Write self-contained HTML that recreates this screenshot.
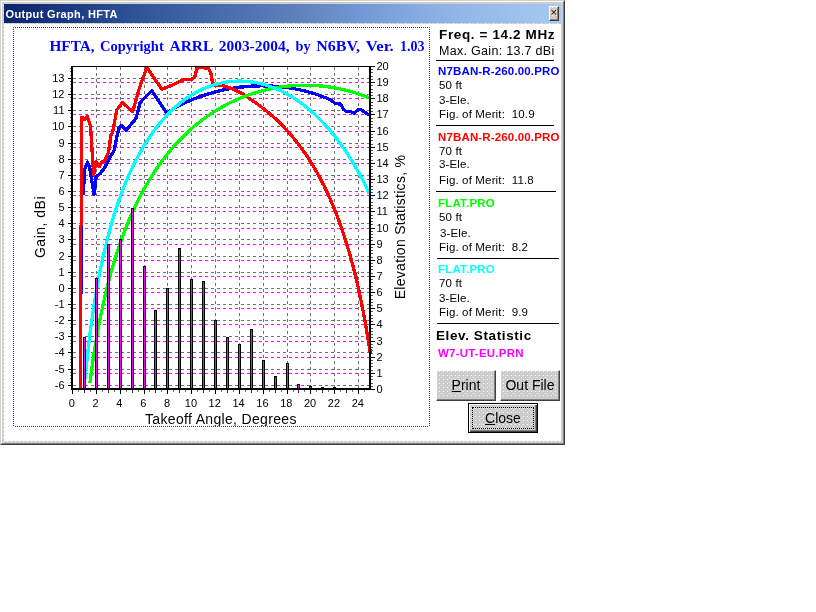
<!DOCTYPE html>
<html><head><meta charset="utf-8"><title>Output Graph, HFTA</title>
<style>
html,body{margin:0;padding:0;background:#fff;}
body{width:816px;height:612px;position:relative;overflow:hidden;font-family:"Liberation Sans",Arial,sans-serif;color:#000;}
.win{position:absolute;left:0;top:0;width:565px;height:445px;box-sizing:border-box;
 border-top:1px solid #d4d0c8;border-left:1px solid #d4d0c8;border-right:1px solid #404040;border-bottom:1px solid #404040;}
.win:before{content:"";position:absolute;left:0;top:0;right:0;bottom:0;border-top:1px solid #fff;border-left:1px solid #fff;border-right:1px solid #808080;border-bottom:1px solid #808080;}
.client{position:absolute;left:4px;top:24px;width:557px;height:417px;background:#fff;}
.title{position:absolute;left:4px;top:4px;width:557px;height:19px;background:linear-gradient(90deg,#0a246a 0%,#1c3a84 12%,#32589b 26%,#5f82be 53%,#739bd7 65%,#90b4e6 80%,#a6caf0 100%);}
.title span{position:absolute;left:1.5px;top:3px;font:bold 11px/14px "Liberation Sans",Arial,sans-serif;color:#fff;letter-spacing:0.35px;white-space:nowrap;}
.xbtn{position:absolute;left:545px;top:2px;width:10px;height:15px;box-sizing:border-box;border-top:1px solid #fff;border-left:1px solid #fff;border-right:1px solid #404040;border-bottom:1px solid #404040;box-shadow:inset -1px -1px 0 #808080;}
.xbtn span{position:absolute;left:0;top:-2px;width:8px;text-align:center;font:11px/14px "Liberation Sans",Arial,sans-serif;color:#000;}
.frame{position:absolute;left:13px;top:27px;width:416px;height:399px;}
.frame .chart{position:absolute;left:0;top:0;}
.frame i{position:absolute;display:block;}
.frame i.h{left:0;width:417px;height:1px;background:repeating-linear-gradient(90deg,#444 0,#444 1px,#fff 1px,#fff 2px);}
.frame i.v{top:0;width:1px;height:400px;background:repeating-linear-gradient(180deg,#444 0,#444 1px,#fff 1px,#fff 2px);}
.dith{background:conic-gradient(at 1px 1px,transparent 75%,#ffffc0 0) 2px 0px/8px 8px,conic-gradient(at 1px 1px,transparent 75%,#ffffc0 0) 6px 0px/8px 8px,conic-gradient(at 1px 1px,transparent 75%,#ffffc0 0) 2px 4px/8px 8px,conic-gradient(at 1px 1px,transparent 75%,#ffffc0 0) 6px 4px/8px 8px,conic-gradient(at 1px 1px,transparent 75%,#ffffc0 0) 4px 6px/8px 8px,conic-gradient(at 1px 1px,transparent 75%,#ffc4c4 0) 0px 0px/8px 8px,conic-gradient(at 1px 1px,transparent 75%,#ffc4c4 0) 0px 2px/8px 8px,conic-gradient(at 1px 1px,transparent 75%,#ffc4c4 0) 4px 2px/8px 8px,conic-gradient(at 1px 1px,transparent 75%,#ffc4c4 0) 4px 4px/8px 8px,conic-gradient(at 1px 1px,transparent 75%,#ffc4c4 0) 0px 6px/8px 8px,#cbcccb;}
.t{position:absolute;white-space:nowrap;line-height:14px;height:14px;}
.b13{font-weight:bold;font-size:13.5px;}
.b11{font-weight:bold;font-size:11.5px;}
.r11{font-size:11.5px;letter-spacing:0.15px;}
.r12{font-size:12.5px;}
.hr{position:absolute;height:1px;background:#000;}
.btn{position:absolute;box-sizing:border-box;border-top:1px solid #fff;border-left:1px solid #fff;border-right:1px solid #404040;border-bottom:1px solid #404040;box-shadow:inset -1px -1px 0 #808080;font-size:14px;line-height:26px;text-align:center;}
.btn u{text-decoration:underline;}
.btn.def{border:1px solid #000;box-shadow:inset 1px 1px 0 #fff, inset -1px -1px 0 #404040, inset -2px -2px 0 #808080;}
.btn.def:after{content:"";position:absolute;left:3px;top:3px;right:3px;bottom:3px;border:1px dotted #000;}
</style></head><body>
<div class="win dith"></div>
<div class="title"><span>Output Graph, HFTA</span><div class="xbtn dith"><span>&#215;</span></div></div>
<div class="client"></div>
<div class="frame">
<svg class="chart" width="416" height="399" viewBox="13 27 416 399">
<rect x="13" y="27" width="416" height="399" fill="#fff"/>
<g shape-rendering="crispEdges" fill="none" stroke-width="1">
<line x1="73" x2="369" y1="385.5" y2="385.5" stroke="#707070" stroke-dasharray="3 3"/>
<line x1="73" x2="369" y1="369.5" y2="369.5" stroke="#707070" stroke-dasharray="3 3"/>
<line x1="73" x2="369" y1="352.5" y2="352.5" stroke="#707070" stroke-dasharray="3 3"/>
<line x1="73" x2="369" y1="336.5" y2="336.5" stroke="#707070" stroke-dasharray="3 3"/>
<line x1="73" x2="369" y1="320.5" y2="320.5" stroke="#707070" stroke-dasharray="3 3"/>
<line x1="73" x2="369" y1="304.5" y2="304.5" stroke="#707070" stroke-dasharray="3 3"/>
<line x1="73" x2="369" y1="288.5" y2="288.5" stroke="#707070" stroke-dasharray="3 3"/>
<line x1="73" x2="369" y1="272.5" y2="272.5" stroke="#707070" stroke-dasharray="3 3"/>
<line x1="73" x2="369" y1="256.5" y2="256.5" stroke="#707070" stroke-dasharray="3 3"/>
<line x1="73" x2="369" y1="239.5" y2="239.5" stroke="#707070" stroke-dasharray="3 3"/>
<line x1="73" x2="369" y1="223.5" y2="223.5" stroke="#707070" stroke-dasharray="3 3"/>
<line x1="73" x2="369" y1="207.5" y2="207.5" stroke="#707070" stroke-dasharray="3 3"/>
<line x1="73" x2="369" y1="191.5" y2="191.5" stroke="#707070" stroke-dasharray="3 3"/>
<line x1="73" x2="369" y1="175.5" y2="175.5" stroke="#707070" stroke-dasharray="3 3"/>
<line x1="73" x2="369" y1="159.5" y2="159.5" stroke="#707070" stroke-dasharray="3 3"/>
<line x1="73" x2="369" y1="143.5" y2="143.5" stroke="#707070" stroke-dasharray="3 3"/>
<line x1="73" x2="369" y1="126.5" y2="126.5" stroke="#707070" stroke-dasharray="3 3"/>
<line x1="73" x2="369" y1="110.5" y2="110.5" stroke="#707070" stroke-dasharray="3 3"/>
<line x1="73" x2="369" y1="94.5" y2="94.5" stroke="#707070" stroke-dasharray="3 3"/>
<line x1="73" x2="369" y1="78.5" y2="78.5" stroke="#707070" stroke-dasharray="3 3"/>
<line x1="96.5" x2="96.5" y1="67" y2="388" stroke="#707070" stroke-dasharray="3 3"/>
<line x1="120.5" x2="120.5" y1="67" y2="388" stroke="#707070" stroke-dasharray="3 3"/>
<line x1="144.5" x2="144.5" y1="67" y2="388" stroke="#707070" stroke-dasharray="3 3"/>
<line x1="167.5" x2="167.5" y1="67" y2="388" stroke="#707070" stroke-dasharray="3 3"/>
<line x1="191.5" x2="191.5" y1="67" y2="388" stroke="#707070" stroke-dasharray="3 3"/>
<line x1="215.5" x2="215.5" y1="67" y2="388" stroke="#707070" stroke-dasharray="3 3"/>
<line x1="239.5" x2="239.5" y1="67" y2="388" stroke="#707070" stroke-dasharray="3 3"/>
<line x1="263.5" x2="263.5" y1="67" y2="388" stroke="#707070" stroke-dasharray="3 3"/>
<line x1="287.5" x2="287.5" y1="67" y2="388" stroke="#707070" stroke-dasharray="3 3"/>
<line x1="310.5" x2="310.5" y1="67" y2="388" stroke="#707070" stroke-dasharray="3 3"/>
<line x1="334.5" x2="334.5" y1="67" y2="388" stroke="#707070" stroke-dasharray="3 3"/>
<line x1="358.5" x2="358.5" y1="67" y2="388" stroke="#707070" stroke-dasharray="3 3"/>
<line x1="73" x2="369" y1="373.5" y2="373.5" stroke="#ff00ff" stroke-dasharray="3 3"/>
<line x1="73" x2="369" y1="357.5" y2="357.5" stroke="#ff00ff" stroke-dasharray="3 3"/>
<line x1="73" x2="369" y1="341.5" y2="341.5" stroke="#ff00ff" stroke-dasharray="3 3"/>
<line x1="73" x2="369" y1="324.5" y2="324.5" stroke="#ff00ff" stroke-dasharray="3 3"/>
<line x1="73" x2="369" y1="308.5" y2="308.5" stroke="#ff00ff" stroke-dasharray="3 3"/>
<line x1="73" x2="369" y1="292.5" y2="292.5" stroke="#ff00ff" stroke-dasharray="3 3"/>
<line x1="73" x2="369" y1="276.5" y2="276.5" stroke="#ff00ff" stroke-dasharray="3 3"/>
<line x1="73" x2="369" y1="260.5" y2="260.5" stroke="#ff00ff" stroke-dasharray="3 3"/>
<line x1="73" x2="369" y1="244.5" y2="244.5" stroke="#ff00ff" stroke-dasharray="3 3"/>
<line x1="73" x2="369" y1="228.5" y2="228.5" stroke="#ff00ff" stroke-dasharray="3 3"/>
<line x1="73" x2="369" y1="211.5" y2="211.5" stroke="#ff00ff" stroke-dasharray="3 3"/>
<line x1="73" x2="369" y1="195.5" y2="195.5" stroke="#ff00ff" stroke-dasharray="3 3"/>
<line x1="73" x2="369" y1="179.5" y2="179.5" stroke="#ff00ff" stroke-dasharray="3 3"/>
<line x1="73" x2="369" y1="163.5" y2="163.5" stroke="#ff00ff" stroke-dasharray="3 3"/>
<line x1="73" x2="369" y1="147.5" y2="147.5" stroke="#ff00ff" stroke-dasharray="3 3"/>
<line x1="73" x2="369" y1="131.5" y2="131.5" stroke="#ff00ff" stroke-dasharray="3 3"/>
<line x1="73" x2="369" y1="114.5" y2="114.5" stroke="#ff00ff" stroke-dasharray="3 3"/>
<line x1="73" x2="369" y1="98.5" y2="98.5" stroke="#ff00ff" stroke-dasharray="3 3"/>
<line x1="73" x2="369" y1="82.5" y2="82.5" stroke="#ff00ff" stroke-dasharray="3 3"/>
</g>
<g fill="none" stroke-width="3.3" stroke-linejoin="round" stroke-linecap="butt" shape-rendering="crispEdges">
<polyline stroke="#0000ff" points="83.4,195.0 84.5,170.0 87.5,162.0 89.6,167.0 92.0,181.7 94.0,194.8 96.1,176.8 100.2,173.5 105.1,167.0 110.0,157.2 114.1,150.6 116.6,137.6 119.0,127.8 121.0,125.3 126.4,130.2 136.0,118.3 140.2,102.5 151.8,90.8 166.8,113.3 174.0,108.3 178.0,106.2 182.0,104.2 186.0,102.3 190.0,100.6 194.0,98.9 198.0,97.4 202.0,96.0 206.0,94.6 210.0,93.4 214.0,92.3 218.0,91.2 222.0,90.3 226.0,89.4 230.0,88.7 234.0,88.0 238.0,87.4 242.0,87.0 246.0,86.6 250.0,86.2 254.0,86.0 258.0,85.9 262.0,85.8 266.0,85.9 270.0,86.0 274.0,86.2 278.0,86.5 282.0,86.9 286.0,87.4 290.0,88.0 294.0,88.7 298.0,89.5 302.0,90.3 306.0,91.3 310.0,92.4 314.0,93.6 318.0,94.9 322.0,96.3 326.0,97.9 330.0,99.5 335.0,103.3 340.8,104.2 343.3,109.2 345.8,111.2 350.8,111.7 354.2,113.3 358.3,109.5 361.7,110.0 369.2,115.0"/>
<rect x="82" y="226" width="1" height="68" fill="#0000ff" stroke="none"/>
<polyline stroke="#ff0000" stroke-width="3" points="80.5,389 80.5,226 81.5,225 81.5,118 82,116.5"/>
<polyline stroke="#ff0000" points="82.0,116.5 84.7,119.5 87.3,116.5 90.5,126.0 92.0,149.0 93.7,175.0 96.0,161.5 99.4,166.5 102.0,162.0 105.0,160.5 108.4,152.5 111.0,135.0 112.5,132.7 116.8,110.0 122.5,102.5 132.7,111.7 139.3,88.3 146.8,67.5 161.8,89.2 172.7,85.0 182.7,80.0 192.7,79.0 195.0,76.5 196.7,68.3 200.0,67.5 208.3,68.3 210.8,73.3 212.5,82.5 215.0,85.0 223.3,85.8 233.3,89.2 243.3,94.2 252.3,100.6 256.4,103.4 260.5,106.3 264.4,109.4 268.2,112.5 272.0,115.7 275.6,118.9 279.1,122.3 282.6,125.7 285.9,129.3 289.1,132.9 292.3,136.5 295.4,140.3 298.3,144.1 301.2,147.9 304.1,151.9 306.8,155.8 309.4,159.9 312.0,164.0 314.5,168.2 316.9,172.4 319.3,176.6 321.5,180.9 323.8,185.3 325.9,189.7 328.0,194.1 330.0,198.6 331.9,203.1 333.8,207.6 335.7,212.2 337.4,216.8 339.2,221.4 340.8,226.1 342.5,230.8 344.0,235.4 345.5,240.2 347.0,244.9 348.4,249.6 349.8,254.4 351.1,259.2 352.4,263.9 353.7,268.7 354.9,273.5 356.1,278.3 357.2,283.1 358.3,287.9 359.3,292.7 360.4,297.5 361.4,302.3 362.3,307.1 363.3,311.9 364.2,316.7 365.1,321.5 365.9,326.2 366.7,331.0 367.6,335.7 368.3,340.4 369.1,345.1 369.9,349.7 370.6,354.4"/>
<polyline stroke="#00ff00" points="89.9,382.9 91.1,373.7 92.3,365.1 93.5,357.0 94.6,349.3 95.8,342.0 97.0,335.1 98.2,328.5 99.4,322.2 100.6,316.2 101.8,310.4 103.0,304.9 104.2,299.6 105.4,294.4 106.6,289.5 107.8,284.7 109.0,280.1 110.1,275.7 111.3,271.4 112.5,267.2 113.7,263.2 114.9,259.2 116.1,255.4 117.3,251.7 118.5,248.1 119.7,244.6 120.9,241.2 122.1,237.9 123.3,234.7 124.4,231.5 125.6,228.5 126.8,225.5 128.0,222.6 129.2,219.7 130.4,216.9 131.6,214.2 132.8,211.6 134.0,209.0 135.2,206.4 136.4,203.9 137.6,201.5 138.8,199.1 139.9,196.8 141.1,194.5 142.3,192.3 143.5,190.1 144.7,187.9 145.9,185.8 147.1,183.8 148.3,181.8 149.5,179.8 150.7,177.8 151.9,175.9 153.1,174.1 154.2,172.2 155.4,170.4 156.6,168.7 157.8,166.9 159.0,165.2 160.2,163.6 161.4,161.9 162.6,160.3 163.8,158.7 165.0,157.2 166.2,155.6 167.4,154.1 168.6,152.7 169.7,151.2 170.9,149.8 172.1,148.4 173.3,147.0 174.5,145.7 175.7,144.3 176.9,143.0 178.1,141.8 179.3,140.5 180.5,139.3 181.7,138.0 182.9,136.9 184.0,135.7 185.2,134.5 186.4,133.4 187.6,132.3 188.8,131.2 190.0,130.1 191.2,129.0 192.4,128.0 193.6,127.0 194.8,125.9 196.0,125.0 197.2,124.0 198.4,123.0 199.5,122.1 200.7,121.1 201.9,120.2 203.1,119.3 204.3,118.5 205.5,117.6 206.7,116.7 207.9,115.9 209.1,115.1 210.3,114.3 211.5,113.5 212.7,112.7 213.8,111.9 215.0,111.2 216.2,110.5 217.4,109.7 218.6,109.0 219.8,108.3 221.0,107.6 222.2,107.0 223.4,106.3 224.6,105.6 225.8,105.0 227.0,104.4 228.2,103.8 229.3,103.2 230.5,102.6 231.7,102.0 232.9,101.4 234.1,100.9 235.3,100.3 236.5,99.8 237.7,99.3 238.9,98.8 240.1,98.3 241.3,97.8 242.5,97.3 243.6,96.8 244.8,96.4 246.0,95.9 247.2,95.5 248.4,95.0 249.6,94.6 250.8,94.2 252.0,93.8 253.2,93.4 254.4,93.0 255.6,92.7 256.8,92.3 258.0,92.0 259.1,91.6 260.3,91.3 261.5,91.0 262.7,90.7 263.9,90.3 265.1,90.1 266.3,89.8 267.5,89.5 268.7,89.2 269.9,89.0 271.1,88.7 272.3,88.5 273.4,88.2 274.6,88.0 275.8,87.8 277.0,87.6 278.2,87.4 279.4,87.2 280.6,87.0 281.8,86.9 283.0,86.7 284.2,86.5 285.4,86.4 286.6,86.3 287.8,86.1 288.9,86.0 290.1,85.9 291.3,85.8 292.5,85.7 293.7,85.6 294.9,85.6 296.1,85.5 297.3,85.4 298.5,85.4 299.7,85.3 300.9,85.3 302.1,85.3 303.2,85.3 304.4,85.2 305.6,85.2 306.8,85.2 308.0,85.3 309.2,85.3 310.4,85.3 311.6,85.4 312.8,85.4 314.0,85.5 315.2,85.5 316.4,85.6 317.6,85.7 318.7,85.8 319.9,85.9 321.1,86.0 322.3,86.1 323.5,86.2 324.7,86.4 325.9,86.5 327.1,86.7 328.3,86.8 329.5,87.0 330.7,87.2 331.9,87.4 333.0,87.6 334.2,87.8 335.4,88.0 336.6,88.2 337.8,88.4 339.0,88.7 340.2,88.9 341.4,89.2 342.6,89.5 343.8,89.7 345.0,90.0 346.2,90.3 347.4,90.6 348.5,90.9 349.7,91.2 350.9,91.6 352.1,91.9 353.3,92.3 354.5,92.6 355.7,93.0 356.9,93.4 358.1,93.8 359.3,94.2 360.5,94.6 361.7,95.0 362.8,95.4 364.0,95.8 365.2,96.3 366.4,96.7 367.6,97.2 368.8,97.7 369.2,97.8"/>
<polyline stroke="#00ffff" points="85.1,378.5 86.3,366.2 87.5,354.9 88.7,344.4 89.9,334.6 91.1,325.5 92.3,316.9 93.5,308.8 94.6,301.2 95.8,294.0 97.0,287.1 98.2,280.6 99.4,274.3 100.6,268.4 101.8,262.7 103.0,257.2 104.2,252.0 105.4,246.9 106.6,242.0 107.8,237.4 109.0,232.8 110.1,228.5 111.3,224.3 112.5,220.2 113.7,216.2 114.9,212.4 116.1,208.7 117.3,205.1 118.5,201.6 119.7,198.2 120.9,195.0 122.1,191.8 123.3,188.7 124.4,185.6 125.6,182.7 126.8,179.8 128.0,177.0 129.2,174.3 130.4,171.7 131.6,169.1 132.8,166.6 134.0,164.1 135.2,161.8 136.4,159.4 137.6,157.2 138.8,154.9 139.9,152.8 141.1,150.7 142.3,148.6 143.5,146.6 144.7,144.6 145.9,142.7 147.1,140.8 148.3,139.0 149.5,137.2 150.7,135.5 151.9,133.7 153.1,132.1 154.2,130.4 155.4,128.9 156.6,127.3 157.8,125.8 159.0,124.3 160.2,122.8 161.4,121.4 162.6,120.0 163.8,118.7 165.0,117.4 166.2,116.1 167.4,114.8 168.6,113.6 169.7,112.4 170.9,111.2 172.1,110.1 173.3,109.0 174.5,107.9 175.7,106.8 176.9,105.8 178.1,104.8 179.3,103.8 180.5,102.8 181.7,101.9 182.9,101.0 184.0,100.1 185.2,99.2 186.4,98.4 187.6,97.6 188.8,96.8 190.0,96.0 191.2,95.3 192.4,94.6 193.6,93.8 194.8,93.2 196.0,92.5 197.2,91.9 198.4,91.2 199.5,90.6 200.7,90.1 201.9,89.5 203.1,89.0 204.3,88.4 205.5,87.9 206.7,87.4 207.9,87.0 209.1,86.5 210.3,86.1 211.5,85.7 212.7,85.3 213.8,84.9 215.0,84.6 216.2,84.2 217.4,83.9 218.6,83.6 219.8,83.3 221.0,83.1 222.2,82.8 223.4,82.6 224.6,82.4 225.8,82.2 227.0,82.0 228.2,81.8 229.3,81.7 230.5,81.6 231.7,81.5 232.9,81.4 234.1,81.3 235.3,81.2 236.5,81.2 237.7,81.1 238.9,81.1 240.1,81.1 241.3,81.1 242.5,81.2 243.6,81.2 244.8,81.3 246.0,81.4 247.2,81.5 248.4,81.6 249.6,81.7 250.8,81.9 252.0,82.0 253.2,82.2 254.4,82.4 255.6,82.6 256.8,82.8 258.0,83.1 259.1,83.3 260.3,83.6 261.5,83.9 262.7,84.2 263.9,84.5 265.1,84.9 266.3,85.2 267.5,85.6 268.7,86.0 269.9,86.4 271.1,86.8 272.3,87.2 273.4,87.7 274.6,88.1 275.8,88.6 277.0,89.1 278.2,89.7 279.4,90.2 280.6,90.7 281.8,91.3 283.0,91.9 284.2,92.5 285.4,93.1 286.6,93.8 287.8,94.4 288.9,95.1 290.1,95.8 291.3,96.5 292.5,97.2 293.7,98.0 294.9,98.8 296.1,99.5 297.3,100.3 298.5,101.2 299.7,102.0 300.9,102.9 302.1,103.7 303.2,104.6 304.4,105.6 305.6,106.5 306.8,107.5 308.0,108.4 309.2,109.4 310.4,110.5 311.6,111.5 312.8,112.6 314.0,113.6 315.2,114.7 316.4,115.9 317.6,117.0 318.7,118.2 319.9,119.4 321.1,120.6 322.3,121.8 323.5,123.1 324.7,124.4 325.9,125.7 327.1,127.0 328.3,128.4 329.5,129.8 330.7,131.2 331.9,132.6 333.0,134.1 334.2,135.5 335.4,137.1 336.6,138.6 337.8,140.2 339.0,141.8 340.2,143.4 341.4,145.0 342.6,146.7 343.8,148.4 345.0,150.2 346.2,151.9 347.4,153.8 348.5,155.6 349.7,157.5 350.9,159.4 352.1,161.3 353.3,163.3 354.5,165.3 355.7,167.3 356.9,169.4 358.1,171.5 359.3,173.7 360.5,175.9 361.7,178.1 362.8,180.4 364.0,182.7 365.2,185.1 366.4,187.5 367.6,190.0 368.8,192.5 369.2,193.2"/>
</g>
<g shape-rendering="crispEdges">
<rect x="83" y="337" width="3" height="52" fill="#000"/>
<rect x="84" y="338" width="1" height="50" fill="#ff00ff"/>
<rect x="95" y="278" width="3" height="111" fill="#000"/>
<rect x="96" y="279" width="1" height="109" fill="#ff00ff"/>
<rect x="107" y="244" width="3" height="145" fill="#000"/>
<rect x="108" y="245" width="1" height="143" fill="#ff00ff"/>
<rect x="119" y="239" width="3" height="150" fill="#000"/>
<rect x="120" y="240" width="1" height="148" fill="#ff00ff"/>
<rect x="131" y="208" width="3" height="181" fill="#000"/>
<rect x="132" y="209" width="1" height="179" fill="#ff00ff"/>
<rect x="143" y="266" width="3" height="123" fill="#000"/>
<rect x="144" y="267" width="1" height="121" fill="#ff00ff"/>
<rect x="154" y="310" width="3" height="79" fill="#000"/>
<rect x="155" y="311" width="1" height="77" fill="#ff00ff"/>
<rect x="166" y="288" width="3" height="101" fill="#000"/>
<rect x="167" y="289" width="1" height="99" fill="#ff00ff"/>
<rect x="178" y="248" width="3" height="141" fill="#000"/>
<rect x="179" y="249" width="1" height="139" fill="#ff00ff"/>
<rect x="190" y="279" width="3" height="110" fill="#000"/>
<rect x="191" y="280" width="1" height="108" fill="#ff00ff"/>
<rect x="202" y="281" width="3" height="108" fill="#000"/>
<rect x="203" y="282" width="1" height="106" fill="#ff00ff"/>
<rect x="214" y="320" width="3" height="69" fill="#000"/>
<rect x="215" y="321" width="1" height="67" fill="#ff00ff"/>
<rect x="226" y="337" width="3" height="52" fill="#000"/>
<rect x="227" y="338" width="1" height="50" fill="#ff00ff"/>
<rect x="238" y="344" width="3" height="45" fill="#000"/>
<rect x="239" y="345" width="1" height="43" fill="#ff00ff"/>
<rect x="250" y="329" width="3" height="60" fill="#000"/>
<rect x="251" y="330" width="1" height="58" fill="#ff00ff"/>
<rect x="262" y="360" width="3" height="29" fill="#000"/>
<rect x="263" y="361" width="1" height="27" fill="#ff00ff"/>
<rect x="274" y="376" width="3" height="13" fill="#000"/>
<rect x="275" y="377" width="1" height="11" fill="#ff00ff"/>
<rect x="286" y="363" width="3" height="26" fill="#000"/>
<rect x="287" y="364" width="1" height="24" fill="#ff00ff"/>
<rect x="297" y="384" width="3" height="5" fill="#000"/>
<rect x="298" y="385" width="1" height="3" fill="#ff00ff"/>
<rect x="309" y="386" width="3" height="3" fill="#000"/>
<rect x="310" y="387" width="1" height="1" fill="#ff00ff"/>
<rect x="321" y="387" width="3" height="2" fill="#000"/>
<rect x="333" y="387" width="3" height="2" fill="#000"/>
</g>
<g shape-rendering="crispEdges" fill="#000">
<rect x="71" y="66" width="2" height="324"/>
<rect x="369" y="66" width="2" height="324"/>
<rect x="71" y="388" width="300" height="2"/>
<rect x="71" y="66" width="300" height="1"/>
<rect x="68" y="385" width="3" height="1"/>
<rect x="70" y="382" width="1" height="1" fill="#777"/>
<rect x="70" y="378" width="1" height="1" fill="#777"/>
<rect x="70" y="375" width="1" height="1" fill="#777"/>
<rect x="70" y="372" width="1" height="1" fill="#777"/>
<rect x="68" y="369" width="3" height="1"/>
<rect x="70" y="365" width="1" height="1" fill="#777"/>
<rect x="70" y="362" width="1" height="1" fill="#777"/>
<rect x="70" y="359" width="1" height="1" fill="#777"/>
<rect x="70" y="356" width="1" height="1" fill="#777"/>
<rect x="68" y="352" width="3" height="1"/>
<rect x="70" y="349" width="1" height="1" fill="#777"/>
<rect x="70" y="346" width="1" height="1" fill="#777"/>
<rect x="70" y="343" width="1" height="1" fill="#777"/>
<rect x="70" y="340" width="1" height="1" fill="#777"/>
<rect x="68" y="336" width="3" height="1"/>
<rect x="70" y="333" width="1" height="1" fill="#777"/>
<rect x="70" y="330" width="1" height="1" fill="#777"/>
<rect x="70" y="327" width="1" height="1" fill="#777"/>
<rect x="70" y="323" width="1" height="1" fill="#777"/>
<rect x="68" y="320" width="3" height="1"/>
<rect x="70" y="317" width="1" height="1" fill="#777"/>
<rect x="70" y="314" width="1" height="1" fill="#777"/>
<rect x="70" y="310" width="1" height="1" fill="#777"/>
<rect x="70" y="307" width="1" height="1" fill="#777"/>
<rect x="68" y="304" width="3" height="1"/>
<rect x="70" y="301" width="1" height="1" fill="#777"/>
<rect x="70" y="298" width="1" height="1" fill="#777"/>
<rect x="70" y="294" width="1" height="1" fill="#777"/>
<rect x="70" y="291" width="1" height="1" fill="#777"/>
<rect x="68" y="288" width="3" height="1"/>
<rect x="70" y="285" width="1" height="1" fill="#777"/>
<rect x="70" y="281" width="1" height="1" fill="#777"/>
<rect x="70" y="278" width="1" height="1" fill="#777"/>
<rect x="70" y="275" width="1" height="1" fill="#777"/>
<rect x="68" y="272" width="3" height="1"/>
<rect x="70" y="268" width="1" height="1" fill="#777"/>
<rect x="70" y="265" width="1" height="1" fill="#777"/>
<rect x="70" y="262" width="1" height="1" fill="#777"/>
<rect x="70" y="259" width="1" height="1" fill="#777"/>
<rect x="68" y="256" width="3" height="1"/>
<rect x="70" y="252" width="1" height="1" fill="#777"/>
<rect x="70" y="249" width="1" height="1" fill="#777"/>
<rect x="70" y="246" width="1" height="1" fill="#777"/>
<rect x="70" y="243" width="1" height="1" fill="#777"/>
<rect x="68" y="239" width="3" height="1"/>
<rect x="70" y="236" width="1" height="1" fill="#777"/>
<rect x="70" y="233" width="1" height="1" fill="#777"/>
<rect x="70" y="230" width="1" height="1" fill="#777"/>
<rect x="70" y="226" width="1" height="1" fill="#777"/>
<rect x="68" y="223" width="3" height="1"/>
<rect x="70" y="220" width="1" height="1" fill="#777"/>
<rect x="70" y="217" width="1" height="1" fill="#777"/>
<rect x="70" y="214" width="1" height="1" fill="#777"/>
<rect x="70" y="210" width="1" height="1" fill="#777"/>
<rect x="68" y="207" width="3" height="1"/>
<rect x="70" y="204" width="1" height="1" fill="#777"/>
<rect x="70" y="201" width="1" height="1" fill="#777"/>
<rect x="70" y="197" width="1" height="1" fill="#777"/>
<rect x="70" y="194" width="1" height="1" fill="#777"/>
<rect x="68" y="191" width="3" height="1"/>
<rect x="70" y="188" width="1" height="1" fill="#777"/>
<rect x="70" y="185" width="1" height="1" fill="#777"/>
<rect x="70" y="181" width="1" height="1" fill="#777"/>
<rect x="70" y="178" width="1" height="1" fill="#777"/>
<rect x="68" y="175" width="3" height="1"/>
<rect x="70" y="172" width="1" height="1" fill="#777"/>
<rect x="70" y="168" width="1" height="1" fill="#777"/>
<rect x="70" y="165" width="1" height="1" fill="#777"/>
<rect x="70" y="162" width="1" height="1" fill="#777"/>
<rect x="68" y="159" width="3" height="1"/>
<rect x="70" y="155" width="1" height="1" fill="#777"/>
<rect x="70" y="152" width="1" height="1" fill="#777"/>
<rect x="70" y="149" width="1" height="1" fill="#777"/>
<rect x="70" y="146" width="1" height="1" fill="#777"/>
<rect x="68" y="143" width="3" height="1"/>
<rect x="70" y="139" width="1" height="1" fill="#777"/>
<rect x="70" y="136" width="1" height="1" fill="#777"/>
<rect x="70" y="133" width="1" height="1" fill="#777"/>
<rect x="70" y="130" width="1" height="1" fill="#777"/>
<rect x="68" y="126" width="3" height="1"/>
<rect x="70" y="123" width="1" height="1" fill="#777"/>
<rect x="70" y="120" width="1" height="1" fill="#777"/>
<rect x="70" y="117" width="1" height="1" fill="#777"/>
<rect x="70" y="113" width="1" height="1" fill="#777"/>
<rect x="68" y="110" width="3" height="1"/>
<rect x="70" y="107" width="1" height="1" fill="#777"/>
<rect x="70" y="104" width="1" height="1" fill="#777"/>
<rect x="70" y="101" width="1" height="1" fill="#777"/>
<rect x="70" y="97" width="1" height="1" fill="#777"/>
<rect x="68" y="94" width="3" height="1"/>
<rect x="70" y="91" width="1" height="1" fill="#777"/>
<rect x="70" y="88" width="1" height="1" fill="#777"/>
<rect x="70" y="84" width="1" height="1" fill="#777"/>
<rect x="70" y="81" width="1" height="1" fill="#777"/>
<rect x="68" y="78" width="3" height="1"/>
<rect x="70" y="75" width="1" height="1" fill="#777"/>
<rect x="70" y="71" width="1" height="1" fill="#777"/>
<rect x="70" y="68" width="1" height="1" fill="#777"/>
<rect x="371" y="389" width="4" height="1"/>
<rect x="371" y="386" width="2" height="1" fill="#555"/>
<rect x="371" y="383" width="2" height="1" fill="#555"/>
<rect x="371" y="379" width="2" height="1" fill="#555"/>
<rect x="371" y="376" width="2" height="1" fill="#555"/>
<rect x="371" y="373" width="4" height="1"/>
<rect x="371" y="370" width="2" height="1" fill="#555"/>
<rect x="371" y="366" width="2" height="1" fill="#555"/>
<rect x="371" y="363" width="2" height="1" fill="#555"/>
<rect x="371" y="360" width="2" height="1" fill="#555"/>
<rect x="371" y="357" width="4" height="1"/>
<rect x="371" y="353" width="2" height="1" fill="#555"/>
<rect x="371" y="350" width="2" height="1" fill="#555"/>
<rect x="371" y="347" width="2" height="1" fill="#555"/>
<rect x="371" y="344" width="2" height="1" fill="#555"/>
<rect x="371" y="341" width="4" height="1"/>
<rect x="371" y="337" width="2" height="1" fill="#555"/>
<rect x="371" y="334" width="2" height="1" fill="#555"/>
<rect x="371" y="331" width="2" height="1" fill="#555"/>
<rect x="371" y="328" width="2" height="1" fill="#555"/>
<rect x="371" y="324" width="4" height="1"/>
<rect x="371" y="321" width="2" height="1" fill="#555"/>
<rect x="371" y="318" width="2" height="1" fill="#555"/>
<rect x="371" y="315" width="2" height="1" fill="#555"/>
<rect x="371" y="311" width="2" height="1" fill="#555"/>
<rect x="371" y="308" width="4" height="1"/>
<rect x="371" y="305" width="2" height="1" fill="#555"/>
<rect x="371" y="302" width="2" height="1" fill="#555"/>
<rect x="371" y="299" width="2" height="1" fill="#555"/>
<rect x="371" y="295" width="2" height="1" fill="#555"/>
<rect x="371" y="292" width="4" height="1"/>
<rect x="371" y="289" width="2" height="1" fill="#555"/>
<rect x="371" y="286" width="2" height="1" fill="#555"/>
<rect x="371" y="282" width="2" height="1" fill="#555"/>
<rect x="371" y="279" width="2" height="1" fill="#555"/>
<rect x="371" y="276" width="4" height="1"/>
<rect x="371" y="273" width="2" height="1" fill="#555"/>
<rect x="371" y="269" width="2" height="1" fill="#555"/>
<rect x="371" y="266" width="2" height="1" fill="#555"/>
<rect x="371" y="263" width="2" height="1" fill="#555"/>
<rect x="371" y="260" width="4" height="1"/>
<rect x="371" y="257" width="2" height="1" fill="#555"/>
<rect x="371" y="253" width="2" height="1" fill="#555"/>
<rect x="371" y="250" width="2" height="1" fill="#555"/>
<rect x="371" y="247" width="2" height="1" fill="#555"/>
<rect x="371" y="244" width="4" height="1"/>
<rect x="371" y="240" width="2" height="1" fill="#555"/>
<rect x="371" y="237" width="2" height="1" fill="#555"/>
<rect x="371" y="234" width="2" height="1" fill="#555"/>
<rect x="371" y="231" width="2" height="1" fill="#555"/>
<rect x="371" y="228" width="4" height="1"/>
<rect x="371" y="224" width="2" height="1" fill="#555"/>
<rect x="371" y="221" width="2" height="1" fill="#555"/>
<rect x="371" y="218" width="2" height="1" fill="#555"/>
<rect x="371" y="215" width="2" height="1" fill="#555"/>
<rect x="371" y="211" width="4" height="1"/>
<rect x="371" y="208" width="2" height="1" fill="#555"/>
<rect x="371" y="205" width="2" height="1" fill="#555"/>
<rect x="371" y="202" width="2" height="1" fill="#555"/>
<rect x="371" y="198" width="2" height="1" fill="#555"/>
<rect x="371" y="195" width="4" height="1"/>
<rect x="371" y="192" width="2" height="1" fill="#555"/>
<rect x="371" y="189" width="2" height="1" fill="#555"/>
<rect x="371" y="186" width="2" height="1" fill="#555"/>
<rect x="371" y="182" width="2" height="1" fill="#555"/>
<rect x="371" y="179" width="4" height="1"/>
<rect x="371" y="176" width="2" height="1" fill="#555"/>
<rect x="371" y="173" width="2" height="1" fill="#555"/>
<rect x="371" y="169" width="2" height="1" fill="#555"/>
<rect x="371" y="166" width="2" height="1" fill="#555"/>
<rect x="371" y="163" width="4" height="1"/>
<rect x="371" y="160" width="2" height="1" fill="#555"/>
<rect x="371" y="156" width="2" height="1" fill="#555"/>
<rect x="371" y="153" width="2" height="1" fill="#555"/>
<rect x="371" y="150" width="2" height="1" fill="#555"/>
<rect x="371" y="147" width="4" height="1"/>
<rect x="371" y="144" width="2" height="1" fill="#555"/>
<rect x="371" y="140" width="2" height="1" fill="#555"/>
<rect x="371" y="137" width="2" height="1" fill="#555"/>
<rect x="371" y="134" width="2" height="1" fill="#555"/>
<rect x="371" y="131" width="4" height="1"/>
<rect x="371" y="127" width="2" height="1" fill="#555"/>
<rect x="371" y="124" width="2" height="1" fill="#555"/>
<rect x="371" y="121" width="2" height="1" fill="#555"/>
<rect x="371" y="118" width="2" height="1" fill="#555"/>
<rect x="371" y="114" width="4" height="1"/>
<rect x="371" y="111" width="2" height="1" fill="#555"/>
<rect x="371" y="108" width="2" height="1" fill="#555"/>
<rect x="371" y="105" width="2" height="1" fill="#555"/>
<rect x="371" y="102" width="2" height="1" fill="#555"/>
<rect x="371" y="98" width="4" height="1"/>
<rect x="371" y="95" width="2" height="1" fill="#555"/>
<rect x="371" y="92" width="2" height="1" fill="#555"/>
<rect x="371" y="89" width="2" height="1" fill="#555"/>
<rect x="371" y="85" width="2" height="1" fill="#555"/>
<rect x="371" y="82" width="4" height="1"/>
<rect x="371" y="79" width="2" height="1" fill="#555"/>
<rect x="371" y="76" width="2" height="1" fill="#555"/>
<rect x="371" y="72" width="2" height="1" fill="#555"/>
<rect x="371" y="69" width="2" height="1" fill="#555"/>
<rect x="371" y="66" width="4" height="1"/>
<rect x="72" y="390" width="1" height="4"/>
<rect x="78" y="390" width="1" height="2" fill="#777"/>
<rect x="84" y="390" width="1" height="3" fill="#333"/>
<rect x="90" y="390" width="1" height="2" fill="#777"/>
<rect x="96" y="390" width="1" height="4"/>
<rect x="102" y="390" width="1" height="2" fill="#777"/>
<rect x="108" y="390" width="1" height="3" fill="#333"/>
<rect x="114" y="390" width="1" height="2" fill="#777"/>
<rect x="120" y="390" width="1" height="4"/>
<rect x="126" y="390" width="1" height="2" fill="#777"/>
<rect x="132" y="390" width="1" height="3" fill="#333"/>
<rect x="138" y="390" width="1" height="2" fill="#777"/>
<rect x="144" y="390" width="1" height="4"/>
<rect x="149" y="390" width="1" height="2" fill="#777"/>
<rect x="155" y="390" width="1" height="3" fill="#333"/>
<rect x="161" y="390" width="1" height="2" fill="#777"/>
<rect x="167" y="390" width="1" height="4"/>
<rect x="173" y="390" width="1" height="2" fill="#777"/>
<rect x="179" y="390" width="1" height="3" fill="#333"/>
<rect x="185" y="390" width="1" height="2" fill="#777"/>
<rect x="191" y="390" width="1" height="4"/>
<rect x="197" y="390" width="1" height="2" fill="#777"/>
<rect x="203" y="390" width="1" height="3" fill="#333"/>
<rect x="209" y="390" width="1" height="2" fill="#777"/>
<rect x="215" y="390" width="1" height="4"/>
<rect x="221" y="390" width="1" height="2" fill="#777"/>
<rect x="227" y="390" width="1" height="3" fill="#333"/>
<rect x="233" y="390" width="1" height="2" fill="#777"/>
<rect x="239" y="390" width="1" height="4"/>
<rect x="245" y="390" width="1" height="2" fill="#777"/>
<rect x="251" y="390" width="1" height="3" fill="#333"/>
<rect x="257" y="390" width="1" height="2" fill="#777"/>
<rect x="263" y="390" width="1" height="4"/>
<rect x="269" y="390" width="1" height="2" fill="#777"/>
<rect x="275" y="390" width="1" height="3" fill="#333"/>
<rect x="281" y="390" width="1" height="2" fill="#777"/>
<rect x="287" y="390" width="1" height="4"/>
<rect x="293" y="390" width="1" height="2" fill="#777"/>
<rect x="298" y="390" width="1" height="3" fill="#333"/>
<rect x="304" y="390" width="1" height="2" fill="#777"/>
<rect x="310" y="390" width="1" height="4"/>
<rect x="316" y="390" width="1" height="2" fill="#777"/>
<rect x="322" y="390" width="1" height="3" fill="#333"/>
<rect x="328" y="390" width="1" height="2" fill="#777"/>
<rect x="334" y="390" width="1" height="4"/>
<rect x="340" y="390" width="1" height="2" fill="#777"/>
<rect x="346" y="390" width="1" height="3" fill="#333"/>
<rect x="352" y="390" width="1" height="2" fill="#777"/>
<rect x="358" y="390" width="1" height="4"/>
<rect x="364" y="390" width="1" height="2" fill="#777"/>
</g>
<g font-family="'Liberation Sans', Arial, sans-serif" font-size="11px" fill="#000">
<text x="64.5" y="389" text-anchor="end">-6</text>
<text x="64.5" y="373" text-anchor="end">-5</text>
<text x="64.5" y="356" text-anchor="end">-4</text>
<text x="64.5" y="340" text-anchor="end">-3</text>
<text x="64.5" y="324" text-anchor="end">-2</text>
<text x="64.5" y="308" text-anchor="end">-1</text>
<text x="64.5" y="292" text-anchor="end">0</text>
<text x="64.5" y="276" text-anchor="end">1</text>
<text x="64.5" y="260" text-anchor="end">2</text>
<text x="64.5" y="243" text-anchor="end">3</text>
<text x="64.5" y="227" text-anchor="end">4</text>
<text x="64.5" y="211" text-anchor="end">5</text>
<text x="64.5" y="195" text-anchor="end">6</text>
<text x="64.5" y="179" text-anchor="end">7</text>
<text x="64.5" y="163" text-anchor="end">8</text>
<text x="64.5" y="147" text-anchor="end">9</text>
<text x="64.5" y="130" text-anchor="end">10</text>
<text x="64.5" y="114" text-anchor="end">11</text>
<text x="64.5" y="98" text-anchor="end">12</text>
<text x="64.5" y="82" text-anchor="end">13</text>
<text x="376.5" y="393">0</text>
<text x="376.5" y="377">1</text>
<text x="376.5" y="361">2</text>
<text x="376.5" y="345">3</text>
<text x="376.5" y="328">4</text>
<text x="376.5" y="312">5</text>
<text x="376.5" y="296">6</text>
<text x="376.5" y="280">7</text>
<text x="376.5" y="264">8</text>
<text x="376.5" y="248">9</text>
<text x="376.5" y="232">10</text>
<text x="376.5" y="215">11</text>
<text x="376.5" y="199">12</text>
<text x="376.5" y="183">13</text>
<text x="376.5" y="167">14</text>
<text x="376.5" y="151">15</text>
<text x="376.5" y="135">16</text>
<text x="376.5" y="118">17</text>
<text x="376.5" y="102">18</text>
<text x="376.5" y="86">19</text>
<text x="376.5" y="70">20</text>
<text x="71.7" y="407" text-anchor="middle">0</text>
<text x="95.5" y="407" text-anchor="middle">2</text>
<text x="119.4" y="407" text-anchor="middle">4</text>
<text x="143.2" y="407" text-anchor="middle">6</text>
<text x="167.1" y="407" text-anchor="middle">8</text>
<text x="190.9" y="407" text-anchor="middle">10</text>
<text x="214.7" y="407" text-anchor="middle">12</text>
<text x="238.6" y="407" text-anchor="middle">14</text>
<text x="262.4" y="407" text-anchor="middle">16</text>
<text x="286.3" y="407" text-anchor="middle">18</text>
<text x="310.1" y="407" text-anchor="middle">20</text>
<text x="333.9" y="407" text-anchor="middle">22</text>
<text x="357.8" y="407" text-anchor="middle">24</text>
</g>
<g font-family="'Liberation Sans', Arial, sans-serif" font-size="14px" fill="#000">
<text x="220.9" y="423.5" text-anchor="middle" letter-spacing="0.33">Takeoff Angle, Degrees</text>
<text transform="translate(45,227) rotate(-90)" text-anchor="middle" letter-spacing="0.5">Gain, dBi</text>
<text transform="translate(405,227) rotate(-90)" text-anchor="middle" letter-spacing="0.3">Elevation Statistics, %</text>
</g>
<text y="51" font-family="'Liberation Serif', 'Times New Roman', serif" font-weight="bold" font-size="15.5px" fill="#0000ff" xml:space="preserve">
<tspan x="49.5" textLength="45" lengthAdjust="spacingAndGlyphs">HFTA,</tspan><tspan> </tspan>
<tspan x="100" textLength="63.75" lengthAdjust="spacingAndGlyphs">Copyright</tspan><tspan> </tspan>
<tspan x="169.5" textLength="43" lengthAdjust="spacingAndGlyphs">ARRL</tspan><tspan> </tspan>
<tspan x="218.75" textLength="70.75" lengthAdjust="spacingAndGlyphs">2003-2004,</tspan><tspan> </tspan>
<tspan x="295.5" textLength="15" lengthAdjust="spacingAndGlyphs">by</tspan><tspan> </tspan>
<tspan x="316.25" textLength="43.75" lengthAdjust="spacingAndGlyphs">N6BV,</tspan><tspan> </tspan>
<tspan x="365.75" textLength="28" lengthAdjust="spacingAndGlyphs">Ver.</tspan><tspan> </tspan>
<tspan x="400" textLength="24.5" lengthAdjust="spacingAndGlyphs">1.03</tspan>
</text>
</svg>
<i class="h" style="top:0"></i><i class="h" style="top:399px"></i><i class="v" style="left:0"></i><i class="v" style="left:416px"></i>
</div>
<div class="panel">
<div class="t b13" style="left:439px;top:28px;letter-spacing:0.63px">Freq. = 14.2 MHz</div>
<div class="t r12" style="left:439px;top:44px;letter-spacing:0.3px">Max. Gain: 13.7 dBi</div>
<div class="hr" style="left:436px;top:60px;width:118px"></div>
<div class="t b11" style="left:438px;top:64px;color:#0000ff;letter-spacing:0.15px">N7BAN-R-260.00.PRO</div>
<div class="t r11" style="left:439px;top:78px">50 ft</div>
<div class="t r11" style="left:439px;top:93px">3-Ele.</div>
<div class="t r11" style="left:439px;top:107px">Fig. of Merit:&nbsp; 10.9</div>
<div class="hr" style="left:436px;top:125px;width:118px"></div>
<div class="t b11" style="left:438px;top:130px;color:#ff0000;letter-spacing:0.15px">N7BAN-R-260.00.PRO</div>
<div class="t r11" style="left:439px;top:144px">70 ft</div>
<div class="t r11" style="left:439px;top:157px">3-Ele.</div>
<div class="t r11" style="left:439px;top:173px">Fig. of Merit:&nbsp; 11.8</div>
<div class="hr" style="left:436px;top:191px;width:120px"></div>
<div class="t b11" style="left:438px;top:196px;color:#00ff00;letter-spacing:0.2px">FLAT.PRO</div>
<div class="t r11" style="left:439px;top:210px">50 ft</div>
<div class="t r11" style="left:440px;top:226px">3-Ele.</div>
<div class="t r11" style="left:439px;top:240px">Fig. of Merit:&nbsp; 8.2</div>
<div class="hr" style="left:437px;top:258px;width:122px"></div>
<div class="t b11" style="left:438px;top:262px;color:#00ffff;letter-spacing:0.2px">FLAT.PRO</div>
<div class="t r11" style="left:439px;top:276px">70 ft</div>
<div class="t r11" style="left:439px;top:291px">3-Ele.</div>
<div class="t r11" style="left:439px;top:305px">Fig. of Merit:&nbsp; 9.9</div>
<div class="hr" style="left:437px;top:323px;width:122px"></div>
<div class="t b13" style="left:436px;top:329px;letter-spacing:0.6px">Elev. Statistic</div>
<div class="t b11" style="left:438px;top:346px;color:#ff00ff;letter-spacing:0.22px">W7-UT-EU.PRN</div>
<div class="btn dith" style="left:436px;top:370px;width:60px;height:31px;line-height:28px"><u>P</u>rint</div>
<div class="btn dith" style="left:500px;top:370px;width:60px;height:31px;line-height:28px">Out File</div>
<div class="btn def dith" style="left:468px;top:403px;width:70px;height:30px;line-height:29px"><u>C</u>lose</div>
</div>
</body></html>
